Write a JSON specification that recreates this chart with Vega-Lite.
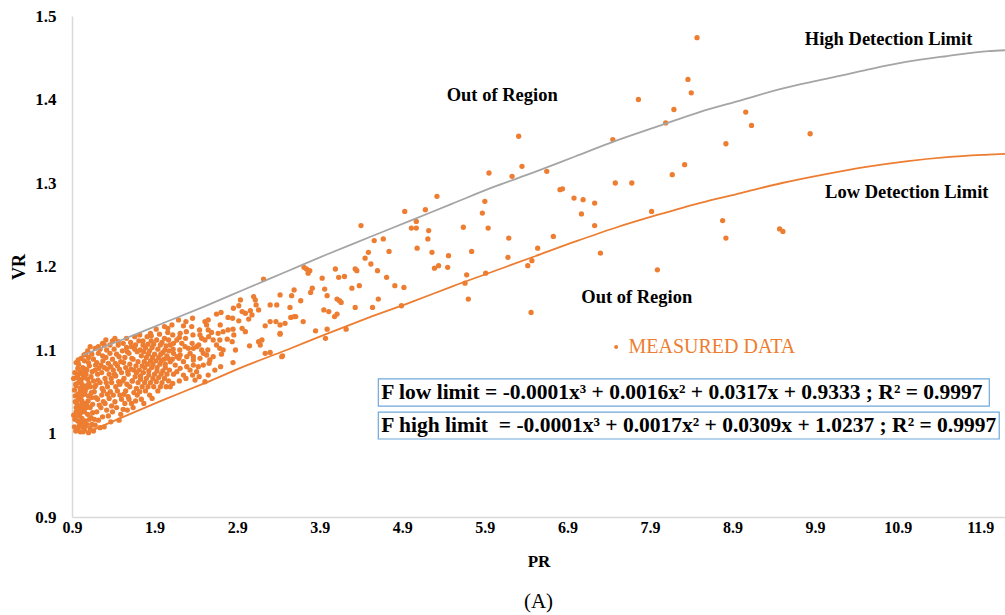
{
  "$schema": "https://vega.github.io/schema/vega-lite/v6.json",
  "width": 933,
  "height": 501,
  "autosize": {"type": "none"},
  "padding": {"left": 72, "top": 16, "right": 0, "bottom": 98},
  "background": "white",
  "config": {"view": {"stroke": null}, "font": "Liberation Serif"},
  "title": {"text": "(A)", "orient": "bottom", "anchor": "middle", "fontSize": 21, "fontWeight": "normal", "font": "Liberation Serif", "color": "#000000", "offset": 22},
  "datasets": {
    "pts": [
      {"x":8.47,"y":1.474},{"x":8.36,"y":1.424},{"x":8.40,"y":1.408},{"x":7.76,"y":1.400},{"x":8.19,"y":1.388},{"x":8.09,"y":1.372},{"x":9.06,"y":1.385},{"x":9.13,"y":1.369},{"x":7.45,"y":1.352},{"x":9.84,"y":1.359},{"x":8.82,"y":1.347},{"x":8.32,"y":1.322},{"x":8.17,"y":1.310},{"x":7.48,"y":1.300},{"x":7.68,"y":1.300},{"x":7.23,"y":1.276},{"x":7.92,"y":1.266},{"x":7.23,"y":1.249},{"x":8.78,"y":1.255},{"x":8.82,"y":1.234},{"x":9.47,"y":1.245},{"x":9.51,"y":1.242},{"x":7.30,"y":1.216},{"x":7.99,"y":1.196},
      {"x":6.35,"y":1.320},{"x":5.95,"y":1.312},{"x":6.23,"y":1.308},{"x":6.65,"y":1.314},{"x":6.81,"y":1.292},{"x":6.84,"y":1.293},{"x":5.32,"y":1.284},{"x":6.98,"y":1.282},{"x":7.09,"y":1.280},{"x":4.93,"y":1.266},{"x":5.18,"y":1.268},{"x":5.90,"y":1.278},{"x":7.07,"y":1.263},{"x":5.87,"y":1.264},{"x":5.07,"y":1.254},{"x":5.01,"y":1.246},{"x":5.07,"y":1.246},{"x":5.22,"y":1.243},{"x":5.64,"y":1.247},{"x":5.94,"y":1.246},{"x":5.21,"y":1.233},{"x":6.19,"y":1.234},{"x":6.73,"y":1.236},{"x":5.08,"y":1.222},{"x":5.26,"y":1.217},{"x":5.74,"y":1.218},{"x":6.54,"y":1.222},{"x":5.46,"y":1.213},{"x":6.18,"y":1.211},{"x":5.29,"y":1.198},{"x":5.34,"y":1.201},{"x":5.45,"y":1.199},{"x":6.47,"y":1.207},{"x":6.42,"y":1.201},{"x":5.68,"y":1.190},{"x":5.91,"y":1.192},{"x":5.66,"y":1.180},{"x":4.92,"y":1.175},{"x":5.70,"y":1.161},{"x":6.46,"y":1.145},{"x":6.31,"y":1.356},
      {"x":4.40,"y":1.249},{"x":4.56,"y":1.231},{"x":4.67,"y":1.233},{"x":4.49,"y":1.217},{"x":4.74,"y":1.218},{"x":4.45,"y":1.210},{"x":4.52,"y":1.203},{"x":4.60,"y":1.195},{"x":3.71,"y":1.199},{"x":3.74,"y":1.197},{"x":3.78,"y":1.195},{"x":3.76,"y":1.192},{"x":4.09,"y":1.197},{"x":4.33,"y":1.197},{"x":4.35,"y":1.195},{"x":4.13,"y":1.187},{"x":4.20,"y":1.188},{"x":3.93,"y":1.186},{"x":4.71,"y":1.187},{"x":4.29,"y":1.174},{"x":4.38,"y":1.177},{"x":4.81,"y":1.177},{"x":3.59,"y":1.172},{"x":3.81,"y":1.174},{"x":3.79,"y":1.169},{"x":3.96,"y":1.173},{"x":3.99,"y":1.165},{"x":3.56,"y":1.165},{"x":3.42,"y":1.166},{"x":4.11,"y":1.161},{"x":4.14,"y":1.159},{"x":4.16,"y":1.157},{"x":3.67,"y":1.159},{"x":4.61,"y":1.161},{"x":3.54,"y":1.151},{"x":4.33,"y":1.151},{"x":4.54,"y":1.151},{"x":3.95,"y":1.148},{"x":4.01,"y":1.146},{"x":4.89,"y":1.153},{"x":4.11,"y":1.143},{"x":4.08,"y":1.140},{"x":3.55,"y":1.139},{"x":3.59,"y":1.140},{"x":3.61,"y":1.140},{"x":3.48,"y":1.132},{"x":3.70,"y":1.134},{"x":3.42,"y":1.130},{"x":3.85,"y":1.123},{"x":3.99,"y":1.125},{"x":4.22,"y":1.125},{"x":3.97,"y":1.114},{"x":3.42,"y":1.119},{"x":3.45,"y":1.093},
      {"x":3.10,"y":1.164},{"x":3.12,"y":1.160},{"x":3.13,"y":1.154},{"x":2.94,"y":1.160},{"x":2.92,"y":1.153},{"x":3.30,"y":1.154},{"x":3.38,"y":1.154},{"x":2.96,"y":1.146},{"x":3.00,"y":1.144},{"x":3.06,"y":1.147},{"x":3.08,"y":1.142},{"x":3.16,"y":1.148},{"x":2.65,"y":1.143},{"x":2.79,"y":1.139},{"x":2.92,"y":1.135},{"x":3.04,"y":1.137},{"x":3.30,"y":1.134},{"x":3.37,"y":1.134},{"x":3.24,"y":1.129},{"x":2.51,"y":1.134},{"x":2.53,"y":1.130},{"x":2.35,"y":1.128},{"x":2.25,"y":1.129},{"x":2.21,"y":1.120},{"x":2.55,"y":1.124},{"x":2.59,"y":1.121},{"x":2.67,"y":1.120},{"x":2.73,"y":1.122},{"x":2.79,"y":1.124},{"x":2.96,"y":1.126},{"x":3.00,"y":1.122},{"x":2.45,"y":1.118},{"x":2.47,"y":1.114},{"x":2.51,"y":1.112},{"x":2.61,"y":1.112},{"x":2.69,"y":1.112},{"x":2.78,"y":1.113},{"x":2.84,"y":1.110},{"x":3.16,"y":1.110},{"x":3.18,"y":1.106},{"x":2.17,"y":1.112},{"x":2.13,"y":1.108},{"x":2.09,"y":1.106},{"x":2.23,"y":1.108},{"x":2.27,"y":1.104},{"x":2.31,"y":1.102},{"x":2.37,"y":1.102},{"x":2.41,"y":1.104},{"x":2.47,"y":1.100},{"x":2.49,"y":1.096},{"x":2.65,"y":1.106},{"x":2.69,"y":1.102},{"x":2.73,"y":1.100},{"x":2.13,"y":1.096},{"x":2.17,"y":1.092},{"x":2.21,"y":1.094},{"x":2.33,"y":1.096},{"x":2.37,"y":1.092},{"x":2.53,"y":1.094},{"x":2.57,"y":1.088},{"x":2.61,"y":1.092},{"x":2.09,"y":1.086},{"x":2.15,"y":1.082},{"x":2.25,"y":1.086},{"x":2.37,"y":1.082},{"x":2.43,"y":1.080},{"x":2.49,"y":1.082},{"x":2.63,"y":1.076},{"x":2.33,"y":1.076},{"x":2.17,"y":1.074},{"x":2.25,"y":1.070},{"x":2.39,"y":1.064},{"x":2.51,"y":1.062},{"x":2.09,"y":1.056},{"x":3.24,"y":1.096},{"x":3.30,"y":1.097},{"x":3.42,"y":1.120},{"x":3.22,"y":1.185},{"x":3.20,"y":1.112},{"x":3.44,"y":1.092},{"x":2.29,"y":1.080},{"x":2.41,"y":1.074},{"x":2.85,"y":1.125},{"x":2.88,"y":1.100},{"x":3.05,"y":1.105},{"x":1.92,"y":1.125},{"x":2.02,"y":1.128},{"x":1.85,"y":1.120},
      {"x":0.93,"y":1.008},{"x":0.92,"y":1.022},{"x":0.94,"y":1.038},{"x":0.93,"y":1.052},{"x":0.92,"y":1.066},
      {"x":0.96,"y":1.004},{"x":0.97,"y":1.015},{"x":0.95,"y":1.026},{"x":0.96,"y":1.036},{"x":0.97,"y":1.046},{"x":0.95,"y":1.057},{"x":0.96,"y":1.068},{"x":0.97,"y":1.078},
      {"x":0.99,"y":1.010},{"x":0.98,"y":1.021},{"x":0.99,"y":1.031},{"x":0.98,"y":1.041},{"x":1.00,"y":1.051},{"x":0.98,"y":1.061},{"x":0.99,"y":1.072},{"x":0.98,"y":1.083},
      {"x":1.00,"y":1.002},{"x":1.01,"y":1.013},{"x":1.00,"y":1.024},{"x":1.01,"y":1.034},{"x":1.01,"y":1.044},{"x":1.00,"y":1.054},{"x":1.01,"y":1.064},{"x":1.00,"y":1.074},{"x":1.01,"y":1.090},
      {"x":1.03,"y":1.008},{"x":1.02,"y":1.018},{"x":1.03,"y":1.029},{"x":1.02,"y":1.039},{"x":1.03,"y":1.049},{"x":1.02,"y":1.059},{"x":1.04,"y":1.069},{"x":1.03,"y":1.079},
      {"x":1.05,"y":1.004},{"x":1.06,"y":1.015},{"x":1.05,"y":1.026},{"x":1.06,"y":1.036},{"x":1.05,"y":1.047},{"x":1.07,"y":1.057},{"x":1.05,"y":1.067},{"x":1.06,"y":1.077},{"x":1.05,"y":1.087},
      {"x":1.08,"y":1.011},{"x":1.09,"y":1.023},{"x":1.08,"y":1.034},{"x":1.10,"y":1.045},{"x":1.08,"y":1.055},{"x":1.09,"y":1.065},{"x":1.08,"y":1.076},{"x":1.10,"y":1.091},
      {"x":1.12,"y":1.006},{"x":1.13,"y":1.019},{"x":1.12,"y":1.031},{"x":1.14,"y":1.043},{"x":1.12,"y":1.056},{"x":1.13,"y":1.068},{"x":1.11,"y":1.081},{"x":1.12,"y":1.104},
      {"x":1.16,"y":1.003},{"x":1.17,"y":1.017},{"x":1.15,"y":1.035},{"x":1.17,"y":1.050},{"x":1.16,"y":1.063},{"x":1.18,"y":1.076},{"x":1.16,"y":1.089},
      {"x":1.20,"y":1.026},{"x":1.21,"y":1.041},{"x":1.19,"y":1.058},{"x":1.21,"y":1.071},{"x":1.20,"y":1.085},{"x":1.22,"y":1.096},
      {"x":1.24,"y":1.007},{"x":1.25,"y":1.031},{"x":1.26,"y":1.046},{"x":1.24,"y":1.061},{"x":1.26,"y":1.073},{"x":1.25,"y":1.082},{"x":1.27,"y":1.093},{"x":1.24,"y":1.101},
      {"x":1.29,"y":1.008},{"x":1.30,"y":1.036},{"x":1.28,"y":1.051},{"x":1.30,"y":1.066},{"x":1.29,"y":1.079},{"x":1.31,"y":1.091},{"x":1.29,"y":1.106},
      {"x":1.34,"y":1.021},{"x":1.35,"y":1.042},{"x":1.33,"y":1.056},{"x":1.35,"y":1.071},{"x":1.34,"y":1.084},{"x":1.36,"y":1.096},
      {"x":1.39,"y":1.026},{"x":1.40,"y":1.046},{"x":1.38,"y":1.061},{"x":1.40,"y":1.076},{"x":1.39,"y":1.089},{"x":1.41,"y":1.101},{"x":1.39,"y":1.111},
      {"x":1.44,"y":1.031},{"x":1.45,"y":1.051},{"x":1.43,"y":1.069},{"x":1.45,"y":1.081},{"x":1.44,"y":1.095},{"x":1.46,"y":1.106},
      {"x":1.49,"y":1.023},{"x":1.50,"y":1.041},{"x":1.48,"y":1.059},{"x":1.50,"y":1.073},{"x":1.49,"y":1.086},{"x":1.51,"y":1.099},
      {"x":1.54,"y":1.036},{"x":1.55,"y":1.051},{"x":1.53,"y":1.066},{"x":1.55,"y":1.079},{"x":1.54,"y":1.091},{"x":1.56,"y":1.103},
      {"x":1.59,"y":1.041},{"x":1.60,"y":1.056},{"x":1.58,"y":1.071},{"x":1.60,"y":1.083},{"x":1.59,"y":1.096},{"x":1.61,"y":1.109},
      {"x":1.64,"y":1.031},{"x":1.65,"y":1.049},{"x":1.63,"y":1.063},{"x":1.65,"y":1.076},{"x":1.64,"y":1.089},{"x":1.66,"y":1.101},
      {"x":1.69,"y":1.046},{"x":1.70,"y":1.061},{"x":1.68,"y":1.073},{"x":1.70,"y":1.086},{"x":1.69,"y":1.098},{"x":1.71,"y":1.111},
      {"x":1.74,"y":1.041},{"x":1.75,"y":1.056},{"x":1.73,"y":1.069},{"x":1.75,"y":1.081},{"x":1.74,"y":1.093},{"x":1.76,"y":1.106},
      {"x":1.79,"y":1.051},{"x":1.80,"y":1.066},{"x":1.78,"y":1.079},{"x":1.80,"y":1.091},{"x":1.79,"y":1.103},{"x":1.81,"y":1.116},
      {"x":1.84,"y":1.046},{"x":1.85,"y":1.061},{"x":1.83,"y":1.075},{"x":1.85,"y":1.087},{"x":1.84,"y":1.099},{"x":1.86,"y":1.111},
      {"x":1.89,"y":1.056},{"x":1.90,"y":1.071},{"x":1.88,"y":1.083},{"x":1.90,"y":1.095},{"x":1.89,"y":1.107},
      {"x":1.94,"y":1.051},{"x":1.95,"y":1.067},{"x":1.93,"y":1.079},{"x":1.95,"y":1.091},{"x":1.94,"y":1.101},{"x":1.96,"y":1.119},
      {"x":1.99,"y":1.061},{"x":2.00,"y":1.075},{"x":1.98,"y":1.087},{"x":2.00,"y":1.097},{"x":1.99,"y":1.109},
      {"x":2.04,"y":1.056},{"x":2.05,"y":1.071},{"x":2.03,"y":1.083},{"x":2.05,"y":1.093},{"x":2.04,"y":1.105},{"x":2.06,"y":1.121},
      {"x":0.945,"y":1.003},{"x":0.935,"y":1.017},{"x":0.95,"y":1.031},{"x":0.94,"y":1.045},{"x":0.945,"y":1.059},{"x":0.935,"y":1.073},{"x":0.95,"y":1.085},
      {"x":0.975,"y":1.006},{"x":0.985,"y":1.026},{"x":0.97,"y":1.047},{"x":0.98,"y":1.066},{"x":0.975,"y":1.088},
      {"x":1.035,"y":1.002},{"x":1.045,"y":1.013},{"x":1.03,"y":1.034},{"x":1.04,"y":1.054},{"x":1.035,"y":1.073},{"x":1.045,"y":1.094},
      {"x":1.065,"y":1.009},{"x":1.075,"y":1.031},{"x":1.06,"y":1.051},{"x":1.07,"y":1.071},{"x":1.065,"y":1.095},
      {"x":1.10,"y":1.001},{"x":1.11,"y":1.017},{"x":1.095,"y":1.039},{"x":1.105,"y":1.060},{"x":1.10,"y":1.085},{"x":1.09,"y":1.099},
      {"x":1.14,"y":1.011},{"x":1.15,"y":1.025},{"x":1.135,"y":1.049},{"x":1.145,"y":1.074},{"x":1.14,"y":1.095},
      {"x":1.18,"y":1.010},{"x":1.19,"y":1.043},{"x":1.175,"y":1.056},{"x":1.185,"y":1.082},{"x":1.18,"y":1.102},
      {"x":1.22,"y":1.016},{"x":1.23,"y":1.034},{"x":1.215,"y":1.064},{"x":1.225,"y":1.078},{"x":1.22,"y":1.104},
      {"x":1.27,"y":1.020},{"x":1.28,"y":1.038},{"x":1.265,"y":1.054},{"x":1.275,"y":1.087},{"x":1.27,"y":1.108},
      {"x":1.32,"y":1.028},{"x":1.33,"y":1.047},{"x":1.315,"y":1.061},{"x":1.325,"y":1.077},{"x":1.32,"y":1.100},{"x":1.31,"y":1.112},
      {"x":1.37,"y":1.014},{"x":1.38,"y":1.033},{"x":1.365,"y":1.050},{"x":1.375,"y":1.066},{"x":1.37,"y":1.080},{"x":1.36,"y":1.106},
      {"x":1.42,"y":1.038},{"x":1.43,"y":1.056},{"x":1.415,"y":1.071},{"x":1.425,"y":1.084},{"x":1.42,"y":1.114},
      {"x":1.47,"y":1.016},{"x":1.48,"y":1.046},{"x":1.465,"y":1.062},{"x":1.475,"y":1.077},{"x":1.47,"y":1.092},{"x":1.46,"y":1.110},
      {"x":1.52,"y":1.029},{"x":1.53,"y":1.047},{"x":1.515,"y":1.063},{"x":1.525,"y":1.085},{"x":1.52,"y":1.108},
      {"x":1.57,"y":1.028},{"x":1.58,"y":1.044},{"x":1.565,"y":1.059},{"x":1.575,"y":1.074},{"x":1.57,"y":1.098},{"x":1.56,"y":1.114},
      {"x":1.62,"y":1.036},{"x":1.63,"y":1.063},{"x":1.615,"y":1.077},{"x":1.625,"y":1.090},{"x":1.62,"y":1.104},
      {"x":1.67,"y":1.039},{"x":1.68,"y":1.054},{"x":1.665,"y":1.068},{"x":1.675,"y":1.081},{"x":1.67,"y":1.106},{"x":1.66,"y":1.116},
      {"x":1.72,"y":1.050},{"x":1.73,"y":1.065},{"x":1.715,"y":1.076},{"x":1.725,"y":1.100},{"x":1.72,"y":1.118},
      {"x":1.77,"y":1.036},{"x":1.78,"y":1.061},{"x":1.765,"y":1.073},{"x":1.775,"y":1.086},{"x":1.77,"y":1.098},{"x":1.76,"y":1.111},
      {"x":1.82,"y":1.056},{"x":1.83,"y":1.070},{"x":1.815,"y":1.083},{"x":1.825,"y":1.095},{"x":1.82,"y":1.107},
      {"x":1.87,"y":1.042},{"x":1.88,"y":1.066},{"x":1.865,"y":1.079},{"x":1.875,"y":1.091},{"x":1.87,"y":1.103},{"x":1.86,"y":1.117},
      {"x":1.92,"y":1.062},{"x":1.93,"y":1.075},{"x":1.915,"y":1.087},{"x":1.925,"y":1.112},
      {"x":1.97,"y":1.056},{"x":1.98,"y":1.071},{"x":1.965,"y":1.083},{"x":1.975,"y":1.095},{"x":1.97,"y":1.106},
      {"x":2.02,"y":1.066},{"x":2.03,"y":1.079},{"x":2.015,"y":1.089},{"x":2.025,"y":1.100},{"x":2.02,"y":1.114},
      {"x":2.07,"y":1.063},{"x":2.08,"y":1.076},{"x":2.065,"y":1.090},{"x":2.075,"y":1.099},{"x":2.07,"y":1.112},{"x":2.06,"y":1.126},
      {"x":2.12,"y":1.060},{"x":2.13,"y":1.071},{"x":2.115,"y":1.089},{"x":2.125,"y":1.101},{"x":2.12,"y":1.118},{"x":2.11,"y":1.130},
      {"x":2.20,"y":1.063},{"x":2.21,"y":1.078},{"x":2.195,"y":1.090},{"x":2.205,"y":1.100},{"x":2.20,"y":1.115},{"x":2.19,"y":1.136},
      {"x":2.28,"y":1.066},{"x":2.29,"y":1.092},{"x":2.275,"y":1.114},{"x":2.285,"y":1.122},{"x":2.28,"y":1.134},
      {"x":2.36,"y":1.070},{"x":2.37,"y":1.088},{"x":2.355,"y":1.108},{"x":2.365,"y":1.118},{"x":2.36,"y":1.138},
      {"x":2.44,"y":1.068},{"x":2.45,"y":1.090},{"x":2.435,"y":1.106},{"x":2.445,"y":1.124},
      {"x":2.55,"y":1.070},{"x":2.56,"y":1.084},{"x":2.545,"y":1.100},{"x":2.555,"y":1.116},{"x":2.55,"y":1.136},
      {"x":2.70,"y":1.080},{"x":2.71,"y":1.095},{"x":2.695,"y":1.130},{"x":2.705,"y":1.145},
      {"x":2.85,"y":1.085},{"x":2.86,"y":1.118},{"x":2.845,"y":1.138},{"x":2.855,"y":1.150}
    ],
    "high": [
      {"x":1.03,"y":1.094},{"x":1.5,"y":1.112},{"x":2.0,"y":1.132},{"x":2.5,"y":1.152},{"x":3.0,"y":1.173},{"x":3.5,"y":1.194},{"x":4.0,"y":1.215},{"x":4.5,"y":1.235},{"x":5.0,"y":1.255},{"x":5.5,"y":1.275},{"x":6.0,"y":1.295},{"x":6.5,"y":1.313},{"x":7.0,"y":1.332},{"x":7.5,"y":1.351},{"x":8.0,"y":1.368},{"x":8.5,"y":1.385},{"x":9.0,"y":1.399},{"x":9.5,"y":1.413},{"x":10.0,"y":1.424},{"x":10.5,"y":1.435},{"x":11.0,"y":1.445},{"x":11.5,"y":1.452},{"x":12.0,"y":1.458},{"x":12.2,"y":1.459}
    ],
    "low": [
      {"x":1.15,"y":1.004},{"x":1.5,"y":1.019},{"x":2.0,"y":1.040},{"x":2.5,"y":1.060},{"x":3.0,"y":1.081},{"x":3.5,"y":1.100},{"x":4.0,"y":1.120},{"x":4.5,"y":1.139},{"x":5.0,"y":1.157},{"x":5.5,"y":1.176},{"x":6.0,"y":1.194},{"x":6.5,"y":1.212},{"x":7.0,"y":1.230},{"x":7.5,"y":1.247},{"x":8.0,"y":1.262},{"x":8.5,"y":1.276},{"x":9.0,"y":1.288},{"x":9.5,"y":1.300},{"x":10.0,"y":1.310},{"x":10.5,"y":1.319},{"x":11.0,"y":1.326},{"x":11.5,"y":1.331},{"x":12.0,"y":1.334},{"x":12.2,"y":1.335}
    ],
    "notes": [
      {"x":6.11,"y":1.405,"t":"Out of Region"},
      {"x":7.74,"y":1.163,"t":"Out of Region"},
      {"x":10.79,"y":1.472,"t":"High Detection Limit"},
      {"x":11.01,"y":1.289,"t":"Low Detection Limit"}
    ],
    "boxes": [
      {"x":4.61,"x2":12.01,"y":1.0653,"y2":1.0329,"t":"F low limit = -0.0001x³ + 0.0016x² + 0.0317x + 0.9333 ; R² = 0.9997","ty":1.0485},
      {"x":4.61,"x2":12.13,"y":1.0257,"y2":0.9934,"t":"F high limit \u00a0= -0.0001x³ + 0.0017x² + 0.0309x + 1.0237 ; R² = 0.9997","ty":1.0092}
    ],
    "legend": [
      {"x":7.49,"y":1.1036,"tx":7.64,"t":"MEASURED DATA"}
    ]
  },
  "encoding": {
    "x": {"field": "x", "type": "quantitative", "scale": {"domain": [0.9, 12.2], "nice": false, "zero": false},
      "axis": {"values": [0.9,1.9,2.9,3.9,4.9,5.9,6.9,7.9,8.9,9.9,10.9,11.9], "format": ".1~f", "grid": false, "ticks": false, "domainColor": "#D9D9D9", "domainWidth": 1.5, "labelFont": "Liberation Serif", "labelFontWeight": "bold", "labelFontSize": 16, "labelColor": "#000000", "labelPadding": 2, "labelFlush": false, "labelOverlap": false, "title": "PR", "titleFont": "Liberation Serif", "titleFontSize": 17, "titleFontWeight": "bold", "titleColor": "#000000", "titlePadding": 18}},
    "y": {"field": "y", "type": "quantitative", "scale": {"domain": [0.9, 1.5], "nice": false, "zero": false},
      "axis": {"values": [0.9,1,1.1,1.2,1.3,1.4,1.5], "format": ".1~f", "grid": false, "ticks": false, "domainColor": "#D9D9D9", "domainWidth": 1.5, "labelFont": "Liberation Serif", "labelFontWeight": "bold", "labelFontSize": 17, "labelColor": "#000000", "labelPadding": 16, "labelFlush": false, "labelOverlap": false, "title": "VR", "titleFont": "Liberation Serif", "titleFontSize": 18, "titleFontWeight": "bold", "titleColor": "#000000", "titlePadding": 6}}
  },
  "layer": [
    {"data": {"name": "pts"}, "mark": {"type": "circle", "size": 28, "opacity": 1, "color": "#ED7D31"}},
    {"data": {"name": "high"}, "mark": {"type": "line", "color": "#A5A5A5", "strokeWidth": 1.8, "interpolate": "monotone"}},
    {"data": {"name": "low"}, "mark": {"type": "line", "color": "#ED7D31", "strokeWidth": 1.8, "interpolate": "monotone"}},
    {"data": {"name": "notes"}, "mark": {"type": "text", "font": "Liberation Serif", "fontSize": 18.5, "fontWeight": "bold", "color": "#000000", "align": "center", "baseline": "middle"}, "encoding": {"text": {"field": "t"}}},
    {"data": {"name": "boxes"}, "mark": {"type": "rect", "fill": "white", "stroke": "#6FA8DC", "strokeWidth": 1.2}, "encoding": {"x2": {"field": "x2"}, "y2": {"field": "y2"}}},
    {"data": {"name": "boxes"}, "mark": {"type": "text", "font": "Liberation Serif", "fontSize": 21.5, "fontWeight": "bold", "color": "#000000", "align": "left", "baseline": "middle", "dx": 3}, "encoding": {"y": {"field": "ty", "type": "quantitative"}, "text": {"field": "t"}}},
    {"data": {"name": "legend"}, "mark": {"type": "circle", "size": 16, "opacity": 1, "color": "#ED7D31"}},
    {"data": {"name": "legend"}, "mark": {"type": "text", "font": "Liberation Serif", "fontSize": 20, "color": "#ED7D31", "align": "left", "baseline": "middle"}, "encoding": {"x": {"field": "tx", "type": "quantitative"}, "text": {"field": "t"}}}
  ]
}
